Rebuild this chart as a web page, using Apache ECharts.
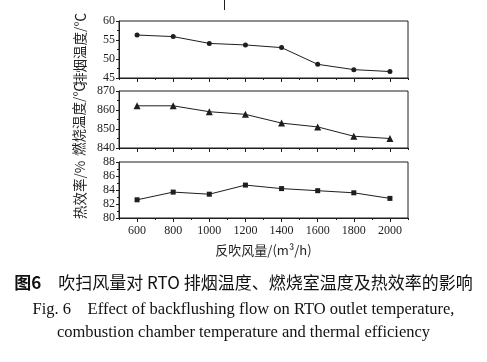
<!DOCTYPE html>
<html><head><meta charset="utf-8">
<script src="https://cdn.jsdelivr.net/npm/echarts@6/dist/echarts.min.js"></script>
<style>html,body{margin:0;padding:0;background:#fff}#c{width:487px;height:362px}</style>
</head><body><div id="c"></div>
<script>
var flow = [600, 800, 1000, 1200, 1400, 1600, 1800, 2000];
var minorTickPos = [500, 700, 900, 1100, 1300, 1500, 1700, 1900, 2100];
var exhaustTemp = [56.3, 55.9, 54.1, 53.7, 53.0, 48.6, 47.2, 46.7];
var combustionTemp = [862.2, 862.2, 859.1, 857.7, 853.1, 851.1, 846.2, 845.0];
var thermalEff = [82.6, 83.7, 83.4, 84.7, 84.2, 83.9, 83.6, 82.8];
var yNames = ['排烟温度/℃', '燃烧温度/℃', '热效率/%'];
var xName = '反吹风量/(m³/h)';
var caption1 = '吹扫风量对 RTO 排烟温度、燃烧室温度及热效率的影响';
var caption2 = 'Fig. 6    Effect of backflushing flow on RTO outlet temperature,';
var caption3 = 'combustion chamber temperature and thermal efficiency';

var C = '#1e1e1e';
var serif = '"Liberation Serif","Times New Roman",serif';
var cjk = '"Noto Sans CJK SC",sans-serif';
var grids = [
  {left: 119, right: 79, top: 21, height: 57},
  {left: 119, right: 79, top: 91, height: 57},
  {left: 119, right: 79, top: 162, height: 56}
];
grids.forEach(function(g){ g.show = true; g.borderColor = C; g.borderWidth = 1; });

var yCfg = [[45, 60, 5], [840, 870, 10], [80, 88, 2]];
var xAxes = [], yAxes = [];
for (var i = 0; i < 3; i++) {
  xAxes.push({
    type: 'value', gridIndex: i, min: 500, max: 2100, position: 'bottom',
    splitLine: {show: false},
    axisLine: {lineStyle: {color: C, width: 1}},
    axisTick: {show: true, length: 4, customValues: flow, lineStyle: {color: C}},
    axisLabel: {show: i === 2, customValues: flow, color: C, fontFamily: serif, fontSize: 12, margin: 7,
      formatter: function(v){ return String(v); }},
    name: i === 2 ? xName : '', nameLocation: 'middle', nameGap: 26,
    nameTextStyle: {color: C, fontFamily: cjk, fontSize: 13}
  });
  xAxes.push({
    type: 'value', gridIndex: i, min: 500, max: 2100, position: 'bottom',
    splitLine: {show: false}, axisLine: {show: false},
    axisTick: {show: true, length: 2, customValues: minorTickPos, lineStyle: {color: C}},
    axisLabel: {show: false}
  });
  yAxes.push({
    type: 'value', gridIndex: i, min: yCfg[i][0], max: yCfg[i][1], interval: yCfg[i][2],
    splitLine: {show: false},
    axisLine: {show: true, lineStyle: {color: C, width: 1}},
    axisTick: {show: true, length: 3, lineStyle: {color: C}},
    minorTick: {show: true, splitNumber: 2, length: 2, lineStyle: {color: C}},
    axisLabel: {color: C, fontFamily: serif, fontSize: 12, margin: 4},
    name: yNames[i], nameLocation: 'middle', nameGap: 32, nameRotate: 90,
    nameTextStyle: {color: C, fontFamily: cjk, fontSize: 13.5}
  });
}
function pairs(arr){ return flow.map(function(x, k){ return [x, arr[k]]; }); }
var series = [
  {type: 'line', xAxisIndex: 0, yAxisIndex: 0, data: pairs(exhaustTemp), symbol: 'circle', symbolSize: 5},
  {type: 'line', xAxisIndex: 2, yAxisIndex: 1, data: pairs(combustionTemp), symbol: 'triangle', symbolSize: 7},
  {type: 'line', xAxisIndex: 4, yAxisIndex: 2, data: pairs(thermalEff), symbol: 'rect', symbolSize: 5}
];
series.forEach(function(s){
  s.lineStyle = {color: C, width: 1};
  s.itemStyle = {color: C};
  s.animation = false;
});

var chart = echarts.init(document.getElementById('c'), null, {renderer: 'canvas'});
chart.setOption({
  animation: false,
  backgroundColor: '#fff',
  grid: grids, xAxis: xAxes, yAxis: yAxes, series: series,
  graphic: [
    {type: 'line', shape: {x1: 224.5, y1: 0, x2: 224.5, y2: 10}, style: {stroke: C, lineWidth: 1}},
    {type: 'text', left: 'center', top: 274, style: {
      text: '{b|图6}{s|　}{n|' + caption1 + '}',
      rich: {
        b: {fontFamily: cjk, fontSize: 17, fontWeight: 'bold', fill: '#111'},
        s: {fontFamily: cjk, fontSize: 17},
        n: {fontFamily: cjk, fontSize: 17, fill: '#111'}
      }
    }},
    {type: 'text', left: 'center', top: 301, style: {text: caption2, font: '16.5px ' + serif, fill: '#111'}},
    {type: 'text', left: 'center', top: 324, style: {text: caption3, font: '16.5px ' + serif, fill: '#111'}}
  ]
});
</script></body></html>
